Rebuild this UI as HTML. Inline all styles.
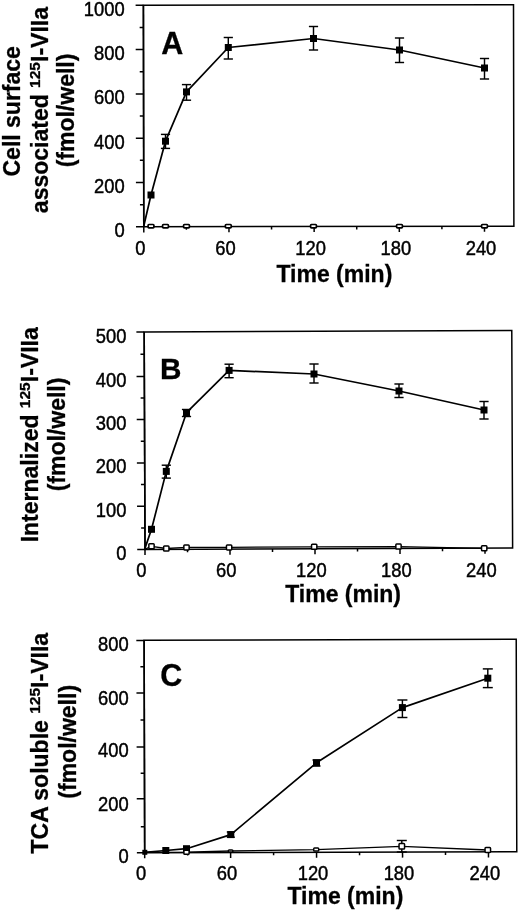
<!DOCTYPE html>
<html><head><meta charset="utf-8"><title>Figure</title>
<style>
html,body{margin:0;padding:0;background:#fff;}
body{width:520px;height:911px;overflow:hidden;font-family:"Liberation Sans",sans-serif;}
svg{display:block;will-change:transform;filter:blur(0.4px);font-family:"Liberation Sans",sans-serif;}
svg text{fill:#000;}
</style></head><body>
<svg width="520" height="911" viewBox="0 0 520 911">
<rect x="0" y="0" width="520" height="911" fill="#fff"/>
<g transform="rotate(-0.1 143.6 116.05)">
<rect x="143.6" y="5.3" width="370.1" height="221.5" fill="none" stroke="#000" stroke-width="1.5"/>
<line x1="143.60" y1="5.30" x2="143.60" y2="226.80" stroke="#000" stroke-width="1.6"/>
<line x1="135.80" y1="226.80" x2="143.60" y2="226.80" stroke="#000" stroke-width="1.5"/>
<line x1="135.80" y1="182.50" x2="143.60" y2="182.50" stroke="#000" stroke-width="1.5"/>
<line x1="135.80" y1="138.20" x2="143.60" y2="138.20" stroke="#000" stroke-width="1.5"/>
<line x1="135.80" y1="93.90" x2="143.60" y2="93.90" stroke="#000" stroke-width="1.5"/>
<line x1="135.80" y1="49.60" x2="143.60" y2="49.60" stroke="#000" stroke-width="1.5"/>
<line x1="135.80" y1="5.30" x2="143.60" y2="5.30" stroke="#000" stroke-width="1.5"/>
<line x1="139.80" y1="204.65" x2="143.60" y2="204.65" stroke="#000" stroke-width="1.5"/>
<line x1="139.80" y1="160.35" x2="143.60" y2="160.35" stroke="#000" stroke-width="1.5"/>
<line x1="139.80" y1="116.05" x2="143.60" y2="116.05" stroke="#000" stroke-width="1.5"/>
<line x1="139.80" y1="71.75" x2="143.60" y2="71.75" stroke="#000" stroke-width="1.5"/>
<line x1="139.80" y1="27.45" x2="143.60" y2="27.45" stroke="#000" stroke-width="1.5"/>
<line x1="143.60" y1="226.80" x2="143.60" y2="232.40" stroke="#000" stroke-width="1.5"/>
<line x1="228.78" y1="226.80" x2="228.78" y2="232.40" stroke="#000" stroke-width="1.5"/>
<line x1="313.95" y1="226.80" x2="313.95" y2="232.40" stroke="#000" stroke-width="1.5"/>
<line x1="399.12" y1="226.80" x2="399.12" y2="232.40" stroke="#000" stroke-width="1.5"/>
<line x1="484.30" y1="226.80" x2="484.30" y2="232.40" stroke="#000" stroke-width="1.5"/>
<line x1="186.19" y1="226.80" x2="186.19" y2="229.80" stroke="#000" stroke-width="1.5"/>
<line x1="271.36" y1="226.80" x2="271.36" y2="229.80" stroke="#000" stroke-width="1.5"/>
<line x1="356.54" y1="226.80" x2="356.54" y2="229.80" stroke="#000" stroke-width="1.5"/>
<line x1="441.71" y1="226.80" x2="441.71" y2="229.80" stroke="#000" stroke-width="1.5"/>
</g>
<text transform="translate(124.70,237.10) scale(0.91,1)" font-size="20.2" text-anchor="end" stroke="#000" stroke-width="0.45">0</text>
<text transform="translate(124.70,192.80) scale(0.91,1)" font-size="20.2" text-anchor="end" stroke="#000" stroke-width="0.45">200</text>
<text transform="translate(124.70,148.50) scale(0.91,1)" font-size="20.2" text-anchor="end" stroke="#000" stroke-width="0.45">400</text>
<text transform="translate(124.70,104.20) scale(0.91,1)" font-size="20.2" text-anchor="end" stroke="#000" stroke-width="0.45">600</text>
<text transform="translate(124.70,59.90) scale(0.91,1)" font-size="20.2" text-anchor="end" stroke="#000" stroke-width="0.45">800</text>
<text transform="translate(124.70,15.60) scale(0.91,1)" font-size="20.2" text-anchor="end" stroke="#000" stroke-width="0.45">1000</text>
<text transform="translate(140.30,255.00) scale(0.91,1)" font-size="20.2" text-anchor="middle" stroke="#000" stroke-width="0.45">0</text>
<text transform="translate(225.47,255.00) scale(0.91,1)" font-size="20.2" text-anchor="middle" stroke="#000" stroke-width="0.45">60</text>
<text transform="translate(310.65,255.00) scale(0.91,1)" font-size="20.2" text-anchor="middle" stroke="#000" stroke-width="0.45">120</text>
<text transform="translate(395.82,255.00) scale(0.91,1)" font-size="20.2" text-anchor="middle" stroke="#000" stroke-width="0.45">180</text>
<text transform="translate(481.00,255.00) scale(0.91,1)" font-size="20.2" text-anchor="middle" stroke="#000" stroke-width="0.45">240</text>
<text transform="translate(334.40,282.00) scale(1.0,1)" font-size="23" text-anchor="middle" font-weight="bold" stroke="#000" stroke-width="0.3">Time (min)</text>
<polyline points="143.60,226.80 151.00,195.00 165.50,141.20 186.50,91.90 228.30,47.50 313.50,38.50 399.50,50.00 484.50,68.00" fill="none" stroke="#000" stroke-width="1.7" stroke-linejoin="round"/>
<rect x="147.50" y="191.50" width="7" height="7" fill="#000"/>
<line x1="165.50" y1="134.40" x2="165.50" y2="148.40" stroke="#000" stroke-width="1.45"/><line x1="160.90" y1="134.40" x2="170.10" y2="134.40" stroke="#000" stroke-width="1.45"/><line x1="160.90" y1="148.40" x2="170.10" y2="148.40" stroke="#000" stroke-width="1.45"/>
<rect x="162.00" y="137.70" width="7" height="7" fill="#000"/>
<line x1="186.50" y1="84.60" x2="186.50" y2="100.20" stroke="#000" stroke-width="1.45"/><line x1="181.90" y1="84.60" x2="191.10" y2="84.60" stroke="#000" stroke-width="1.45"/><line x1="181.90" y1="100.20" x2="191.10" y2="100.20" stroke="#000" stroke-width="1.45"/>
<rect x="183.00" y="88.40" width="7" height="7" fill="#000"/>
<line x1="228.30" y1="37.50" x2="228.30" y2="59.00" stroke="#000" stroke-width="1.45"/><line x1="223.70" y1="37.50" x2="232.90" y2="37.50" stroke="#000" stroke-width="1.45"/><line x1="223.70" y1="59.00" x2="232.90" y2="59.00" stroke="#000" stroke-width="1.45"/>
<rect x="224.80" y="44.00" width="7" height="7" fill="#000"/>
<line x1="313.50" y1="26.50" x2="313.50" y2="50.00" stroke="#000" stroke-width="1.45"/><line x1="308.90" y1="26.50" x2="318.10" y2="26.50" stroke="#000" stroke-width="1.45"/><line x1="308.90" y1="50.00" x2="318.10" y2="50.00" stroke="#000" stroke-width="1.45"/>
<rect x="310.00" y="35.00" width="7" height="7" fill="#000"/>
<line x1="399.50" y1="38.00" x2="399.50" y2="62.50" stroke="#000" stroke-width="1.45"/><line x1="394.90" y1="38.00" x2="404.10" y2="38.00" stroke="#000" stroke-width="1.45"/><line x1="394.90" y1="62.50" x2="404.10" y2="62.50" stroke="#000" stroke-width="1.45"/>
<rect x="396.00" y="46.50" width="7" height="7" fill="#000"/>
<line x1="484.50" y1="58.50" x2="484.50" y2="79.00" stroke="#000" stroke-width="1.45"/><line x1="479.90" y1="58.50" x2="489.10" y2="58.50" stroke="#000" stroke-width="1.45"/><line x1="479.90" y1="79.00" x2="489.10" y2="79.00" stroke="#000" stroke-width="1.45"/>
<rect x="481.00" y="64.50" width="7" height="7" fill="#000"/>
<rect x="148.10" y="224.50" width="5.8" height="3.4" rx="0.8" fill="#fff" stroke="#000" stroke-width="1.7"/>
<rect x="162.60" y="224.50" width="5.8" height="3.4" rx="0.8" fill="#fff" stroke="#000" stroke-width="1.7"/>
<rect x="183.60" y="224.50" width="5.8" height="3.4" rx="0.8" fill="#fff" stroke="#000" stroke-width="1.7"/>
<rect x="225.40" y="224.50" width="5.8" height="3.4" rx="0.8" fill="#fff" stroke="#000" stroke-width="1.7"/>
<rect x="310.60" y="224.50" width="5.8" height="3.4" rx="0.8" fill="#fff" stroke="#000" stroke-width="1.7"/>
<rect x="396.60" y="224.50" width="5.8" height="3.4" rx="0.8" fill="#fff" stroke="#000" stroke-width="1.7"/>
<rect x="481.60" y="224.50" width="5.8" height="3.4" rx="0.8" fill="#fff" stroke="#000" stroke-width="1.7"/>
<g transform="rotate(-0.22 144.6 440.65)">
<rect x="144.6" y="331.9" width="367.6" height="217.5" fill="none" stroke="#000" stroke-width="1.5"/>
<line x1="144.60" y1="331.90" x2="144.60" y2="549.40" stroke="#000" stroke-width="1.6"/>
<line x1="136.80" y1="549.50" x2="144.60" y2="549.50" stroke="#000" stroke-width="1.5"/>
<line x1="136.80" y1="506.30" x2="144.60" y2="506.30" stroke="#000" stroke-width="1.5"/>
<line x1="136.80" y1="462.90" x2="144.60" y2="462.90" stroke="#000" stroke-width="1.5"/>
<line x1="136.80" y1="419.50" x2="144.60" y2="419.50" stroke="#000" stroke-width="1.5"/>
<line x1="136.80" y1="376.40" x2="144.60" y2="376.40" stroke="#000" stroke-width="1.5"/>
<line x1="136.80" y1="332.00" x2="144.60" y2="332.00" stroke="#000" stroke-width="1.5"/>
<line x1="140.80" y1="527.90" x2="144.60" y2="527.90" stroke="#000" stroke-width="1.5"/>
<line x1="140.80" y1="484.60" x2="144.60" y2="484.60" stroke="#000" stroke-width="1.5"/>
<line x1="140.80" y1="441.20" x2="144.60" y2="441.20" stroke="#000" stroke-width="1.5"/>
<line x1="140.80" y1="398.00" x2="144.60" y2="398.00" stroke="#000" stroke-width="1.5"/>
<line x1="140.80" y1="354.30" x2="144.60" y2="354.30" stroke="#000" stroke-width="1.5"/>
<line x1="144.60" y1="549.40" x2="144.60" y2="555.00" stroke="#000" stroke-width="1.5"/>
<line x1="229.60" y1="549.40" x2="229.60" y2="555.00" stroke="#000" stroke-width="1.5"/>
<line x1="314.60" y1="549.40" x2="314.60" y2="555.00" stroke="#000" stroke-width="1.5"/>
<line x1="399.60" y1="549.40" x2="399.60" y2="555.00" stroke="#000" stroke-width="1.5"/>
<line x1="484.60" y1="549.40" x2="484.60" y2="555.00" stroke="#000" stroke-width="1.5"/>
<line x1="187.10" y1="549.40" x2="187.10" y2="552.40" stroke="#000" stroke-width="1.5"/>
<line x1="272.10" y1="549.40" x2="272.10" y2="552.40" stroke="#000" stroke-width="1.5"/>
<line x1="357.10" y1="549.40" x2="357.10" y2="552.40" stroke="#000" stroke-width="1.5"/>
<line x1="442.10" y1="549.40" x2="442.10" y2="552.40" stroke="#000" stroke-width="1.5"/>
</g>
<text transform="translate(126.40,559.70) scale(0.91,1)" font-size="20.2" text-anchor="end" stroke="#000" stroke-width="0.45">0</text>
<text transform="translate(126.40,516.80) scale(0.91,1)" font-size="20.2" text-anchor="end" stroke="#000" stroke-width="0.45">100</text>
<text transform="translate(126.40,473.20) scale(0.91,1)" font-size="20.2" text-anchor="end" stroke="#000" stroke-width="0.45">200</text>
<text transform="translate(126.40,430.00) scale(0.91,1)" font-size="20.2" text-anchor="end" stroke="#000" stroke-width="0.45">300</text>
<text transform="translate(126.40,386.50) scale(0.91,1)" font-size="20.2" text-anchor="end" stroke="#000" stroke-width="0.45">400</text>
<text transform="translate(126.40,342.90) scale(0.91,1)" font-size="20.2" text-anchor="end" stroke="#000" stroke-width="0.45">500</text>
<text transform="translate(141.30,577.20) scale(0.91,1)" font-size="20.2" text-anchor="middle" stroke="#000" stroke-width="0.45">0</text>
<text transform="translate(226.30,577.20) scale(0.91,1)" font-size="20.2" text-anchor="middle" stroke="#000" stroke-width="0.45">60</text>
<text transform="translate(311.30,577.20) scale(0.91,1)" font-size="20.2" text-anchor="middle" stroke="#000" stroke-width="0.45">120</text>
<text transform="translate(396.30,577.20) scale(0.91,1)" font-size="20.2" text-anchor="middle" stroke="#000" stroke-width="0.45">180</text>
<text transform="translate(481.30,577.20) scale(0.91,1)" font-size="20.2" text-anchor="middle" stroke="#000" stroke-width="0.45">240</text>
<text transform="translate(343.10,602.20) scale(1.0,1)" font-size="23" text-anchor="middle" font-weight="bold" stroke="#000" stroke-width="0.3">Time (min)</text>
<polyline points="144.60,549.40 151.50,529.30 166.30,471.40 186.50,412.70 229.10,370.40 314.00,374.00 399.00,391.00 484.00,410.00" fill="none" stroke="#000" stroke-width="1.7" stroke-linejoin="round"/>
<rect x="148.00" y="525.80" width="7" height="7" fill="#000"/>
<line x1="166.30" y1="465.20" x2="166.30" y2="478.10" stroke="#000" stroke-width="1.45"/><line x1="161.70" y1="465.20" x2="170.90" y2="465.20" stroke="#000" stroke-width="1.45"/><line x1="161.70" y1="478.10" x2="170.90" y2="478.10" stroke="#000" stroke-width="1.45"/>
<rect x="162.80" y="467.90" width="7" height="7" fill="#000"/>
<line x1="186.50" y1="409.50" x2="186.50" y2="416.50" stroke="#000" stroke-width="1.45"/><line x1="181.90" y1="409.50" x2="191.10" y2="409.50" stroke="#000" stroke-width="1.45"/><line x1="181.90" y1="416.50" x2="191.10" y2="416.50" stroke="#000" stroke-width="1.45"/>
<rect x="183.00" y="409.20" width="7" height="7" fill="#000"/>
<line x1="229.10" y1="364.20" x2="229.10" y2="377.70" stroke="#000" stroke-width="1.45"/><line x1="224.50" y1="364.20" x2="233.70" y2="364.20" stroke="#000" stroke-width="1.45"/><line x1="224.50" y1="377.70" x2="233.70" y2="377.70" stroke="#000" stroke-width="1.45"/>
<rect x="225.60" y="366.90" width="7" height="7" fill="#000"/>
<line x1="314.00" y1="364.00" x2="314.00" y2="383.00" stroke="#000" stroke-width="1.45"/><line x1="309.40" y1="364.00" x2="318.60" y2="364.00" stroke="#000" stroke-width="1.45"/><line x1="309.40" y1="383.00" x2="318.60" y2="383.00" stroke="#000" stroke-width="1.45"/>
<rect x="310.50" y="370.50" width="7" height="7" fill="#000"/>
<line x1="399.00" y1="384.00" x2="399.00" y2="397.50" stroke="#000" stroke-width="1.45"/><line x1="394.40" y1="384.00" x2="403.60" y2="384.00" stroke="#000" stroke-width="1.45"/><line x1="394.40" y1="397.50" x2="403.60" y2="397.50" stroke="#000" stroke-width="1.45"/>
<rect x="395.50" y="387.50" width="7" height="7" fill="#000"/>
<line x1="484.00" y1="401.50" x2="484.00" y2="419.00" stroke="#000" stroke-width="1.45"/><line x1="479.40" y1="401.50" x2="488.60" y2="401.50" stroke="#000" stroke-width="1.45"/><line x1="479.40" y1="419.00" x2="488.60" y2="419.00" stroke="#000" stroke-width="1.45"/>
<rect x="480.50" y="406.50" width="7" height="7" fill="#000"/>
<polyline points="144.60,549.40 151.50,546.30 166.30,548.50 186.50,547.40 229.10,547.40 314.20,546.80 398.50,546.60 484.20,548.30" fill="none" stroke="#000" stroke-width="1.3" stroke-linejoin="round"/>
<rect x="148.85" y="543.80" width="5.3" height="5.0" rx="0.8" fill="#fff" stroke="#000" stroke-width="1.5"/>
<rect x="163.65" y="546.00" width="5.3" height="5.0" rx="0.8" fill="#fff" stroke="#000" stroke-width="1.5"/>
<rect x="183.85" y="544.90" width="5.3" height="5.0" rx="0.8" fill="#fff" stroke="#000" stroke-width="1.5"/>
<rect x="226.45" y="544.90" width="5.3" height="5.0" rx="0.8" fill="#fff" stroke="#000" stroke-width="1.5"/>
<rect x="311.55" y="544.30" width="5.3" height="5.0" rx="0.8" fill="#fff" stroke="#000" stroke-width="1.5"/>
<rect x="395.85" y="544.10" width="5.3" height="5.0" rx="0.8" fill="#fff" stroke="#000" stroke-width="1.5"/>
<rect x="481.55" y="545.80" width="5.3" height="5.0" rx="0.8" fill="#fff" stroke="#000" stroke-width="1.5"/>
<g transform="rotate(-0.15 144.4 746.50)">
<rect x="144.4" y="640.3" width="372.1" height="212.4000000000001" fill="none" stroke="#000" stroke-width="1.5"/>
<line x1="144.40" y1="640.30" x2="144.40" y2="852.70" stroke="#000" stroke-width="1.6"/>
<line x1="136.60" y1="852.70" x2="144.40" y2="852.70" stroke="#000" stroke-width="1.5"/>
<line x1="136.60" y1="798.80" x2="144.40" y2="798.80" stroke="#000" stroke-width="1.5"/>
<line x1="136.60" y1="746.90" x2="144.40" y2="746.90" stroke="#000" stroke-width="1.5"/>
<line x1="136.60" y1="692.90" x2="144.40" y2="692.90" stroke="#000" stroke-width="1.5"/>
<line x1="136.60" y1="640.40" x2="144.40" y2="640.40" stroke="#000" stroke-width="1.5"/>
<line x1="140.60" y1="826.80" x2="144.40" y2="826.80" stroke="#000" stroke-width="1.5"/>
<line x1="140.60" y1="773.30" x2="144.40" y2="773.30" stroke="#000" stroke-width="1.5"/>
<line x1="140.60" y1="719.95" x2="144.40" y2="719.95" stroke="#000" stroke-width="1.5"/>
<line x1="140.60" y1="666.70" x2="144.40" y2="666.70" stroke="#000" stroke-width="1.5"/>
<line x1="144.40" y1="852.70" x2="144.40" y2="858.30" stroke="#000" stroke-width="1.5"/>
<line x1="230.35" y1="852.70" x2="230.35" y2="858.30" stroke="#000" stroke-width="1.5"/>
<line x1="316.30" y1="852.70" x2="316.30" y2="858.30" stroke="#000" stroke-width="1.5"/>
<line x1="402.25" y1="852.70" x2="402.25" y2="858.30" stroke="#000" stroke-width="1.5"/>
<line x1="488.20" y1="852.70" x2="488.20" y2="858.30" stroke="#000" stroke-width="1.5"/>
<line x1="187.38" y1="852.70" x2="187.38" y2="855.70" stroke="#000" stroke-width="1.5"/>
<line x1="273.32" y1="852.70" x2="273.32" y2="855.70" stroke="#000" stroke-width="1.5"/>
<line x1="359.27" y1="852.70" x2="359.27" y2="855.70" stroke="#000" stroke-width="1.5"/>
<line x1="445.23" y1="852.70" x2="445.23" y2="855.70" stroke="#000" stroke-width="1.5"/>
</g>
<text transform="translate(128.60,863.20) scale(0.91,1)" font-size="20.2" text-anchor="end" stroke="#000" stroke-width="0.45">0</text>
<text transform="translate(128.60,810.60) scale(0.91,1)" font-size="20.2" text-anchor="end" stroke="#000" stroke-width="0.45">200</text>
<text transform="translate(128.60,757.20) scale(0.91,1)" font-size="20.2" text-anchor="end" stroke="#000" stroke-width="0.45">400</text>
<text transform="translate(128.60,705.00) scale(0.91,1)" font-size="20.2" text-anchor="end" stroke="#000" stroke-width="0.45">600</text>
<text transform="translate(128.60,651.00) scale(0.91,1)" font-size="20.2" text-anchor="end" stroke="#000" stroke-width="0.45">800</text>
<text transform="translate(141.10,880.40) scale(0.91,1)" font-size="20.2" text-anchor="middle" stroke="#000" stroke-width="0.45">0</text>
<text transform="translate(227.05,880.40) scale(0.91,1)" font-size="20.2" text-anchor="middle" stroke="#000" stroke-width="0.45">60</text>
<text transform="translate(313.00,880.40) scale(0.91,1)" font-size="20.2" text-anchor="middle" stroke="#000" stroke-width="0.45">120</text>
<text transform="translate(398.95,880.40) scale(0.91,1)" font-size="20.2" text-anchor="middle" stroke="#000" stroke-width="0.45">180</text>
<text transform="translate(484.90,880.40) scale(0.91,1)" font-size="20.2" text-anchor="middle" stroke="#000" stroke-width="0.45">240</text>
<text transform="translate(345.40,904.10) scale(1.0,1)" font-size="23" text-anchor="middle" font-weight="bold" stroke="#000" stroke-width="0.3">Time (min)</text>
<polyline points="144.80,852.30 165.80,850.50 186.50,848.70 230.80,834.60 316.50,762.80 402.40,707.60 487.80,678.20" fill="none" stroke="#000" stroke-width="1.7" stroke-linejoin="round"/>
<polyline points="144.80,852.30 186.50,852.20 230.60,851.00 316.20,849.60 401.80,846.30 487.80,850.00" fill="none" stroke="#000" stroke-width="1.3" stroke-linejoin="round"/>
<line x1="401.80" y1="840.50" x2="401.80" y2="852.00" stroke="#000" stroke-width="1.45"/><line x1="396.80" y1="840.50" x2="406.80" y2="840.50" stroke="#000" stroke-width="1.45"/><line x1="396.80" y1="852.00" x2="406.80" y2="852.00" stroke="#000" stroke-width="1.45"/>
<rect x="142.30" y="849.80" width="5" height="5" fill="#000"/>
<rect x="162.30" y="847.00" width="7" height="7" fill="#000"/>
<rect x="183.00" y="845.20" width="7" height="7" fill="#000"/>
<line x1="230.80" y1="832.00" x2="230.80" y2="837.20" stroke="#000" stroke-width="1.45"/><line x1="226.80" y1="832.00" x2="234.80" y2="832.00" stroke="#000" stroke-width="1.45"/><line x1="226.80" y1="837.20" x2="234.80" y2="837.20" stroke="#000" stroke-width="1.45"/>
<rect x="227.30" y="831.10" width="7" height="7" fill="#000"/>
<line x1="316.50" y1="760.00" x2="316.50" y2="766.00" stroke="#000" stroke-width="1.45"/><line x1="312.50" y1="760.00" x2="320.50" y2="760.00" stroke="#000" stroke-width="1.45"/><line x1="312.50" y1="766.00" x2="320.50" y2="766.00" stroke="#000" stroke-width="1.45"/>
<rect x="313.00" y="759.30" width="7" height="7" fill="#000"/>
<line x1="402.40" y1="700.00" x2="402.40" y2="717.50" stroke="#000" stroke-width="1.45"/><line x1="397.40" y1="700.00" x2="407.40" y2="700.00" stroke="#000" stroke-width="1.45"/><line x1="397.40" y1="717.50" x2="407.40" y2="717.50" stroke="#000" stroke-width="1.45"/>
<rect x="398.90" y="704.10" width="7" height="7" fill="#000"/>
<line x1="487.80" y1="668.90" x2="487.80" y2="687.60" stroke="#000" stroke-width="1.45"/><line x1="482.80" y1="668.90" x2="492.80" y2="668.90" stroke="#000" stroke-width="1.45"/><line x1="482.80" y1="687.60" x2="492.80" y2="687.60" stroke="#000" stroke-width="1.45"/>
<rect x="484.30" y="674.70" width="7" height="7" fill="#000"/>
<rect x="183.90" y="850.20" width="5.2" height="4.0" rx="0.8" fill="#fff" stroke="#000" stroke-width="1.5"/>
<rect x="228.35" y="850.00" width="4.5" height="2.0" rx="0.8" fill="#fff" stroke="#000" stroke-width="1.5"/>
<rect x="313.70" y="848.10" width="5.0" height="3.0" rx="0.8" fill="#fff" stroke="#000" stroke-width="1.5"/>
<rect x="399.05" y="843.55" width="5.5" height="5.5" rx="0.8" fill="#fff" stroke="#000" stroke-width="1.5"/>
<rect x="485.05" y="847.60" width="5.5" height="4.8" rx="0.8" fill="#fff" stroke="#000" stroke-width="1.5"/>
<text transform="translate(161.30,54.20) scale(1.0,1)" font-size="30.5" text-anchor="start" font-weight="bold" stroke="#000" stroke-width="0.3">A</text>
<text transform="translate(160.00,378.60) scale(1.0,1)" font-size="29.7" text-anchor="start" font-weight="bold" stroke="#000" stroke-width="0.3">B</text>
<text transform="translate(160.30,685.50) scale(1.0,1)" font-size="30.5" text-anchor="start" font-weight="bold" stroke="#000" stroke-width="0.3">C</text>
<text transform="translate(19.90,111.30) rotate(-90)" font-size="23" font-weight="bold" stroke="#000" stroke-width="0.3" text-anchor="middle">Cell surface</text>
<text transform="translate(47.90,110.10) rotate(-90)" font-size="23" font-weight="bold" stroke="#000" stroke-width="0.3" text-anchor="middle">associated <tspan font-size="15.5" dy="-7.8">125</tspan><tspan dy="7.8">I-VIIa</tspan></text>
<text transform="translate(74.20,110.50) rotate(-90)" font-size="23" font-weight="bold" stroke="#000" stroke-width="0.3" text-anchor="middle">(fmol/well)</text>
<text transform="translate(37.80,434.80) rotate(-90)" font-size="23" font-weight="bold" stroke="#000" stroke-width="0.3" text-anchor="middle">Internalized <tspan font-size="15.5" dy="-7.8">125</tspan><tspan dy="7.8">I-VIIa</tspan></text>
<text transform="translate(64.80,434.50) rotate(-90)" font-size="23" font-weight="bold" stroke="#000" stroke-width="0.3" text-anchor="middle">(fmol/well)</text>
<text transform="translate(48.20,743.20) rotate(-90)" font-size="23" font-weight="bold" stroke="#000" stroke-width="0.3" text-anchor="middle">TCA soluble <tspan font-size="15.5" dy="-7.8">125</tspan><tspan dy="7.8">I-VIIa</tspan></text>
<text transform="translate(75.50,741.80) rotate(-90)" font-size="23" font-weight="bold" stroke="#000" stroke-width="0.3" text-anchor="middle">(fmol/well)</text>
</svg>
</body></html>
